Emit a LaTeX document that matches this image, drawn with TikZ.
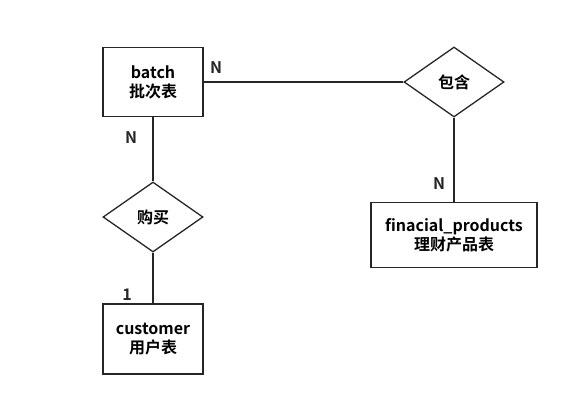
\documentclass[tikz,border=0pt]{standalone}
\usepackage{fontspec}
\setmainfont{Noto Sans CJK SC}[BoldFont={Noto Sans CJK SC Bold}]
\usetikzlibrary{shapes.geometric, positioning}

\begin{document}
\begin{tikzpicture}[font=\bfseries\fontsize{16}{19}\selectfont, line width=1.3pt, draw=black!85]
			\tikzstyle{entity} = [rectangle, draw=black!85, text centered, align=center, minimum width=100pt, minimum height=69pt, inner sep=2pt]
			\tikzstyle{relation} = [diamond, draw=black!85, text centered, minimum width=100pt, minimum height=70pt, aspect=1.43, inner sep=0pt]
			\tikzstyle{line} = [line width=1.3pt, draw=black!85]
			\tikzstyle{card} = [text=black!85, inner sep=0pt]

			\useasboundingbox (0,0) rectangle (569pt,-407pt);

			\node (batch) [entity] at (153pt,-82pt) {batch\\批次表};
			\node (contain) [relation, right=301pt of batch.center, anchor=center] {包含};
			\node (products) [entity, below=153pt of contain.center, anchor=center, minimum width=166pt, minimum height=65pt] {finacial\_products\\理财产品表};
			\node (buy) [relation, below=135pt of batch.center, anchor=center] {购买};
			\node (customer) [entity, below=122pt of buy.center, anchor=center, minimum height=70pt] {customer\\用户表};

			\draw [line] (batch) -- (contain);
			\draw [line] (contain) -- (products);
			\draw [line] (batch) -- (buy);
			\draw [line] (buy) -- (customer);

			\node (nbatch) [card] at (216pt,-68pt) {N};
			\node (nbuy) [card] at (131pt,-138pt) {N};
			\node (nproducts) [card] at (439pt,-184pt) {N};
			\node (ncustomer) [card] at (127pt,-295pt) {1};

		\end{tikzpicture}
\end{document}
